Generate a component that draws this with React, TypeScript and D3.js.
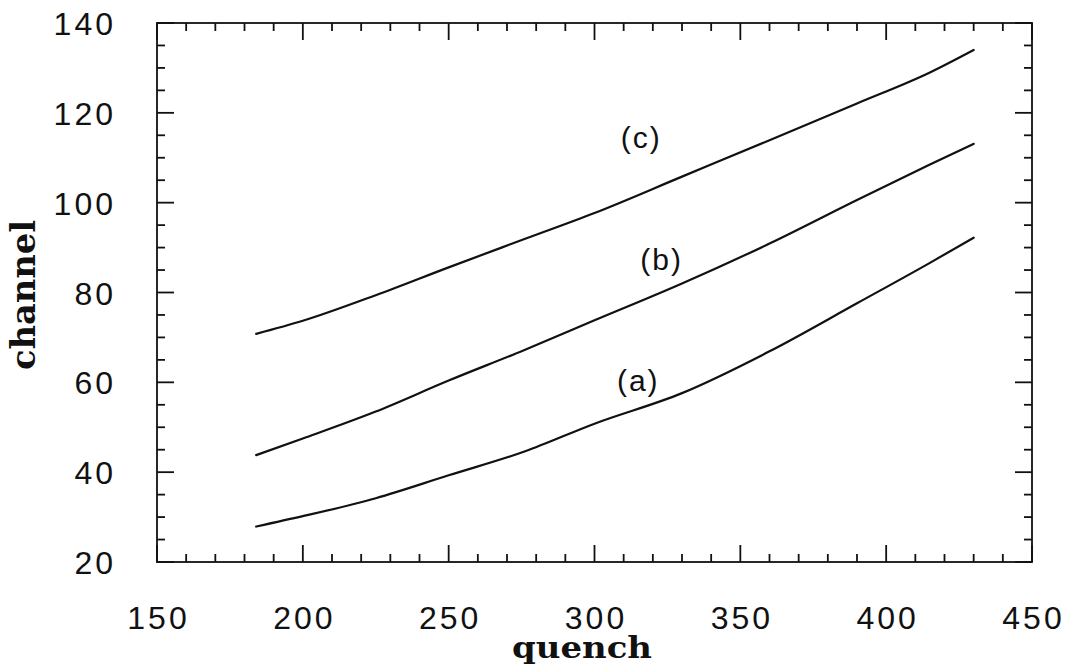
import React from "react";
import * as d3 from "d3";

const quench = [184, 200, 225, 250, 276, 300, 330, 360, 390, 415, 430];
const seriesA = [27.9, 30.2, 34.2, 39.3, 44.6, 50.8, 57.6, 66.9, 77.6, 86.6, 92.2];
const seriesB = [43.8, 47.5, 53.5, 60.4, 67.2, 73.8, 82.0, 90.9, 100.6, 108.5, 113.1];
const seriesC = [70.8, 73.7, 79.4, 85.6, 91.9, 97.7, 105.8, 113.9, 122.1, 129.0, 134.0];
const curveLabels = ["(a)", "(b)", "(c)"];
const labelPos = [
  { q: 315, ch: 60.3 },
  { q: 323, ch: 87.3 },
  { q: 316, ch: 114.5 },
];
const xMajor = [150, 200, 250, 300, 350, 400, 450];
const yMajor = [20, 40, 60, 80, 100, 120, 140];

const W = 1073;
const H = 667;
const L = 157, R = 1032, T = 23, B = 562;

export default function App() {
  const x = d3.scaleLinear().domain([150, 450]).range([L, R]);
  const y = d3.scaleLinear().domain([20, 140]).range([B, T]);
  const xMinor = d3.range(150, 451, 10).filter((v) => v % 50 !== 0);
  const yMinor = d3.range(20, 141, 5).filter((v) => v % 20 !== 0);
  const line = d3
    .line<number>()
    .x((_, i) => x(quench[i]))
    .y((d) => y(d))
    .curve(d3.curveMonotoneX);
  const series = [seriesA, seriesB, seriesC];
  const major = 17, minor = 8;
  const tickFont = "'Liberation Sans', Arial, sans-serif";
  return (
    <svg width={W} height={H} style={{ position: "absolute", left: 0, top: 0, background: "#fff" }}>
      <rect x={0} y={0} width={W} height={H} fill="#fff" />
      <g stroke="#111" strokeWidth={1.8} fill="none">
        <rect x={L} y={T} width={R - L} height={B - T} />
        {xMajor.map((v) => (
          <g key={"xm" + v}>
            <line x1={x(v)} x2={x(v)} y1={B} y2={B - major} />
            <line x1={x(v)} x2={x(v)} y1={T} y2={T + major} />
          </g>
        ))}
        {xMinor.map((v) => (
          <g key={"xn" + v}>
            <line x1={x(v)} x2={x(v)} y1={B} y2={B - minor} />
            <line x1={x(v)} x2={x(v)} y1={T} y2={T + minor} />
          </g>
        ))}
        {yMajor.map((v) => (
          <g key={"ym" + v}>
            <line x1={L} x2={L + major} y1={y(v)} y2={y(v)} />
            <line x1={R} x2={R - major} y1={y(v)} y2={y(v)} />
          </g>
        ))}
        {yMinor.map((v) => (
          <g key={"yn" + v}>
            <line x1={L} x2={L + minor} y1={y(v)} y2={y(v)} />
            <line x1={R} x2={R - minor} y1={y(v)} y2={y(v)} />
          </g>
        ))}
      </g>
      <g fill="none" stroke="#111" strokeWidth={2.2} strokeLinecap="round">
        {series.map((s, i) => (
          <path key={i} d={line(s) || ""} />
        ))}
      </g>
      <g fontFamily={tickFont} fontSize={32} fill="#111" letterSpacing={3}>
        {xMajor.map((v) => (
          <text key={"xl" + v} x={x(v) + 1.5} y={629} textAnchor="middle">
            {v}
          </text>
        ))}
        {yMajor.map((v) => (
          <text key={"yl" + v} x={116} y={y(v) + 12} textAnchor="end">
            {v}
          </text>
        ))}
      </g>
      <g fontFamily={tickFont} fontSize={30} fill="#111" letterSpacing={2}>
        {curveLabels.map((t, i) => (
          <text key={t} x={x(labelPos[i].q)} y={y(labelPos[i].ch) + 10} textAnchor="middle">
            {t}
          </text>
        ))}
      </g>
      <text
        x={582}
        y={658}
        textAnchor="middle"
        fontFamily="'DejaVu Serif', serif"
        fontWeight="bold"
        fontSize={30}
        fill="#111"
        textLength={140}
        lengthAdjust="spacingAndGlyphs"
      >
        quench
      </text>
      <text
        transform="translate(35,295) rotate(-90)"
        textAnchor="middle"
        fontFamily="'DejaVu Serif', serif"
        fontWeight="bold"
        fontSize={33}
        fill="#111"
        textLength={150}
        lengthAdjust="spacingAndGlyphs"
      >
        channel
      </text>
    </svg>
  );
}
